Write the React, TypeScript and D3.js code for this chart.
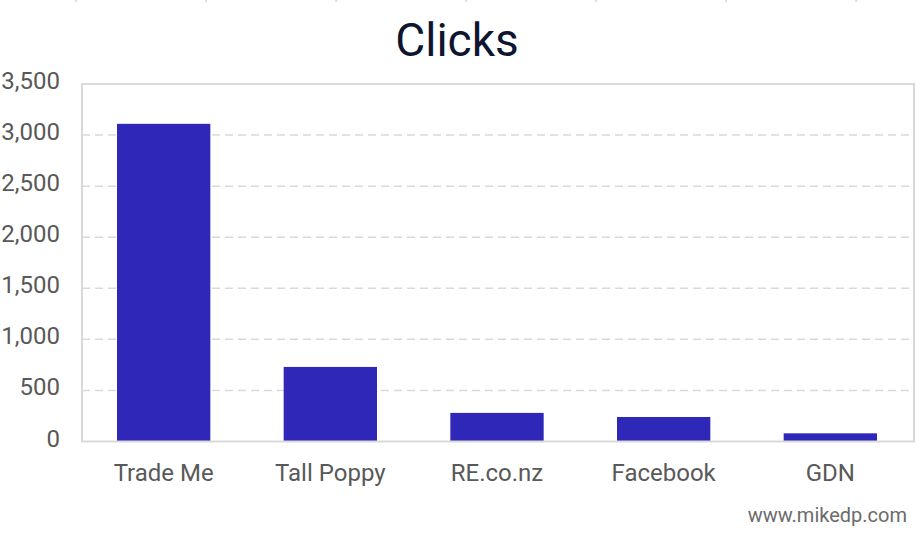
import React from 'react'
import * as d3 from 'd3'

// data
const categories = ['Trade Me', 'Tall Poppy', 'RE.co.nz', 'Facebook', 'GDN']
const clicks = [3110, 730, 280, 240, 80]
const yTicks = [0, 500, 1000, 1500, 2000, 2500, 3000, 3500]
const topMarks = [0, 1, 2, 3, 4, 5, 6]

const App = () => {
    const width = 917
    const height = 534
    const left = 82
    const right = 912
    const top = 84
    const bottom = 441.5

    const x = d3.scaleBand().domain(categories).range([left, right]).paddingInner(0.44).paddingOuter(0.21)
    const y = d3.scaleLinear().domain([0, 3500]).range([bottom, top])
    const fmt = d3.format(',')
    const font = 'Roboto, "Noto Sans", sans-serif'

    return (
        <svg width={width} height={height} style={{ position: 'absolute', left: 0, top: 0, background: '#fff' }}>
            {/* small marks cut off at the top edge */}
            {topMarks.map((i) => (
                <rect key={i} x={75.5 + i * 130} y={0} width={1.2} height={2} fill='#c8c8c8' />
            ))}

            <text x={457} y={56} textAnchor='middle' fontFamily={font} fontSize={46} fill='#0d1530'>
                Clicks
            </text>

            {/* dashed grid */}
            {yTicks.filter((t) => t > 0 && t < 3500).map((t) => (
                <line key={t} x1={left} x2={914} y1={y(t)} y2={y(t)} stroke='#d9d9d9' strokeWidth={1.5} strokeDasharray='8,5' />
            ))}

            {/* bars */}
            {clicks.map((v, i) => (
                <rect key={categories[i]} x={x(categories[i]) || 0} y={y(v)} width={x.bandwidth()} height={bottom - y(v)} fill='#2e27b8' />
            ))}

            {/* plot frame */}
            <rect x={left} y={top} width={914 - left} height={bottom - top} fill='none' stroke='#d9d9d9' strokeWidth={2} />

            {/* y tick labels */}
            {yTicks.map((t) => (
                <text key={t} x={60} y={y(t) + 5} textAnchor='end' fontFamily={font} fontSize={24} fill='#595959'>
                    {fmt(t)}
                </text>
            ))}

            {/* category labels */}
            {categories.map((c) => (
                <text key={c} x={(x(c) || 0) + x.bandwidth() / 2} y={481} textAnchor='middle' fontFamily={font} fontSize={24} fill='#595959'>
                    {c}
                </text>
            ))}

            <text x={907} y={522} textAnchor='end' fontFamily={font} fontSize={20} fill='#6b6b6b'>
                www.mikedp.com
            </text>
        </svg>
    )
}

export default App
